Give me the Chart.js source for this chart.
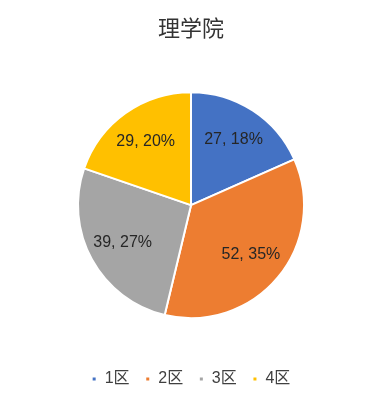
<!DOCTYPE html>
<html>
<head>
<meta charset="utf-8">
<script src="https://cdn.jsdelivr.net/npm/chart.js@4/dist/chart.umd.min.js"></script>
<style>
html,body{margin:0;padding:0;background:#fff;}
#wrap{width:382px;height:408px;}
</style>
</head>
<body>
<div id="wrap"><canvas id="c" width="382" height="408"></canvas></div>
<script>
const titleText = '理学院';
const categories = ['1区', '2区', '3区', '4区'];
const values = [27, 52, 39, 29];
const colors = ['#4472C4', '#ED7D31', '#A5A5A5', '#FFC000'];

const FONT = "'Liberation Sans', Arial, 'Noto Sans CJK SC', sans-serif";

const labelPlugin = {
  id: 'sliceLabels',
  afterDatasetsDraw(chart) {
    const ctx = chart.ctx;
    const meta = chart.getDatasetMeta(0);
    const data = chart.data.datasets[0].data;
    const total = data.reduce((a, b) => a + b, 0);
    ctx.save();
    ctx.font = '16px ' + FONT;
    ctx.fillStyle = '#262626';
    ctx.textAlign = 'center';
    ctx.textBaseline = 'middle';
    meta.data.forEach((arc, i) => {
      const p = arc.getProps(['x', 'y', 'startAngle', 'endAngle', 'outerRadius'], true);
      const mid = (p.startAngle + p.endAngle) / 2;
      const r = p.outerRadius * 0.69;
      const x = p.x + Math.cos(mid) * r;
      const y = p.y + Math.sin(mid) * r;
      const pct = Math.round(data[i] / total * 100);
      ctx.fillText(data[i] + ', ' + pct + '%', x, y);
    });
    ctx.restore();
  }
};

new Chart(document.getElementById('c'), {
  type: 'pie',
  data: {
    labels: categories,
    datasets: [{
      data: values,
      backgroundColor: colors,
      borderColor: '#ffffff',
      borderWidth: 2,
      radius: 113
    }]
  },
  options: {
    responsive: false,
    animation: false,
    layout: { padding: { top: 0, bottom: 11, left: 0, right: 0 } },
    plugins: {
      tooltip: { enabled: false },
      title: {
        display: true,
        text: titleText,
        color: '#333333',
        font: { family: "'Noto Sans CJK SC', sans-serif", size: 22, weight: 'normal', lineHeight: 1.2 },
        padding: { top: 14.8, bottom: 13.8 }
      },
      legend: {
        position: 'bottom',
        labels: {
          color: '#404040',
          boxWidth: 5,
          boxHeight: 5,
          padding: 15.7,
          font: { family: FONT, size: 16 }
        }
      }
    }
  },
  plugins: [labelPlugin]
});
</script>
</body>
</html>
